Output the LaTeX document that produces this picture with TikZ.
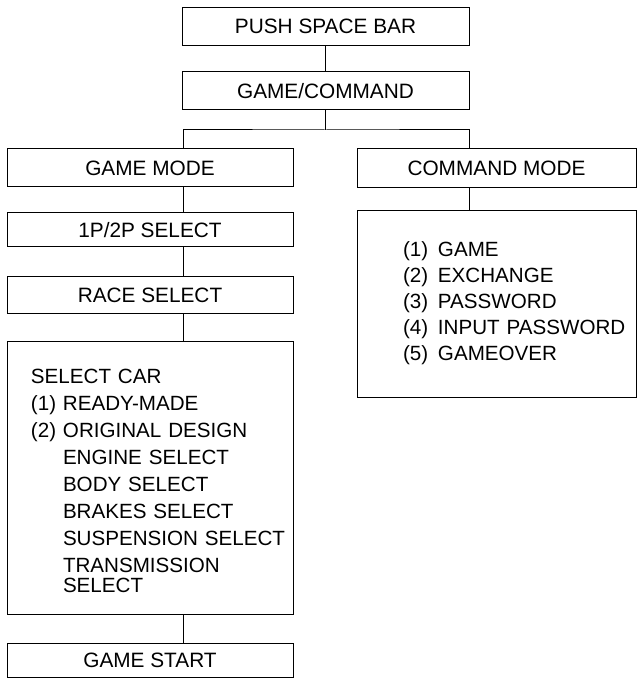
\documentclass[tikz,border=0pt]{standalone}
\usepackage{fontspec}
\setmainfont{Liberation Sans}
\begin{document}
\begin{tikzpicture}[x=1pt,y=-1pt,
  line width=1pt,
  bx/.style={draw, inner sep=0pt, text height=15pt, text depth=0pt,
    font=\fontsize{20.8}{25}\selectfont},
  listbox/.style={draw, inner xsep=0pt, inner ysep=0pt, align=left,
    font=\fontsize{20.6}{27}\selectfont},
  conn/.style={line width=1pt}]
\useasboundingbox (0,0) rectangle (639,679);

\node[bx, minimum width=287pt, minimum height=38pt] (push) at (325.5,26.5) {PUSH SPACE BAR};
\node[bx, minimum width=287pt, minimum height=38pt] (gc) at (325.5,91) {GAME/COMMAND};
\node[bx, minimum width=286pt, minimum height=37.5pt] (gm) at (150,167.75) {GAME MODE};
\node[bx, minimum width=279pt, minimum height=38pt] (cm) at (496.5,168) {COMMAND MODE};
\node[bx, minimum width=286pt, minimum height=34pt] (p12) at (150,229.5) {1P/2P SELECT};
\node[bx, minimum width=286pt, minimum height=37pt] (race) at (150,294.5) {RACE SELECT};
\node[listbox, text width=286pt, minimum height=273pt] (car) at (150,477.5)
  {\leftskip=24pt\rule{0pt}{22pt}SELECT CAR\\
   \makebox[32pt][l]{(1)}READY-MADE\\
   \makebox[32pt][l]{(2)}ORIGINAL DESIGN\\
   \hspace*{32pt}ENGINE SELECT\\
   \hspace*{32pt}BODY SELECT\\
   \hspace*{32pt}BRAKES SELECT\\
   \hspace*{32pt}SUSPENSION SELECT\\
   \hspace*{32pt}TRANSMISSION\\[-7pt]
   \hspace*{32pt}SELECT\par};
\node[bx, minimum width=286pt, minimum height=34pt] (start) at (150,660) {GAME START};
\node[listbox, text width=279pt, minimum height=187pt,
  font=\fontsize{20.6}{26}\selectfont] (cl) at (496.5,303.5)
  {\leftskip=46pt\makebox[35pt][l]{(1)}GAME\\
   \makebox[35pt][l]{(2)}EXCHANGE\\
   \makebox[35pt][l]{(3)}PASSWORD\\
   \makebox[35pt][l]{(4)}INPUT PASSWORD\\
   \makebox[35pt][l]{(5)}GAMEOVER\par};

\coordinate (split) at (325.5,130);
\draw[conn] (push) -- (gc);
\draw[conn] (gc.south) -- (split);
\draw[conn] ([xshift=33pt]gm.north) |- (split) -| ([xshift=-27.5pt]cm.north);
\draw[conn] ([xshift=33pt]gm.south) -- ([xshift=33pt]p12.north);
\draw[conn] ([xshift=33pt]p12.south) -- ([xshift=33pt]race.north);
\draw[conn] ([xshift=33pt]race.south) -- ([xshift=33pt]car.north);
\draw[conn] ([xshift=33pt]car.south) -- ([xshift=33pt]start.north);
\draw[conn] ([xshift=-27.5pt]cm.south) -- ([xshift=-27.5pt]cl.north);
\end{tikzpicture}
\end{document}
